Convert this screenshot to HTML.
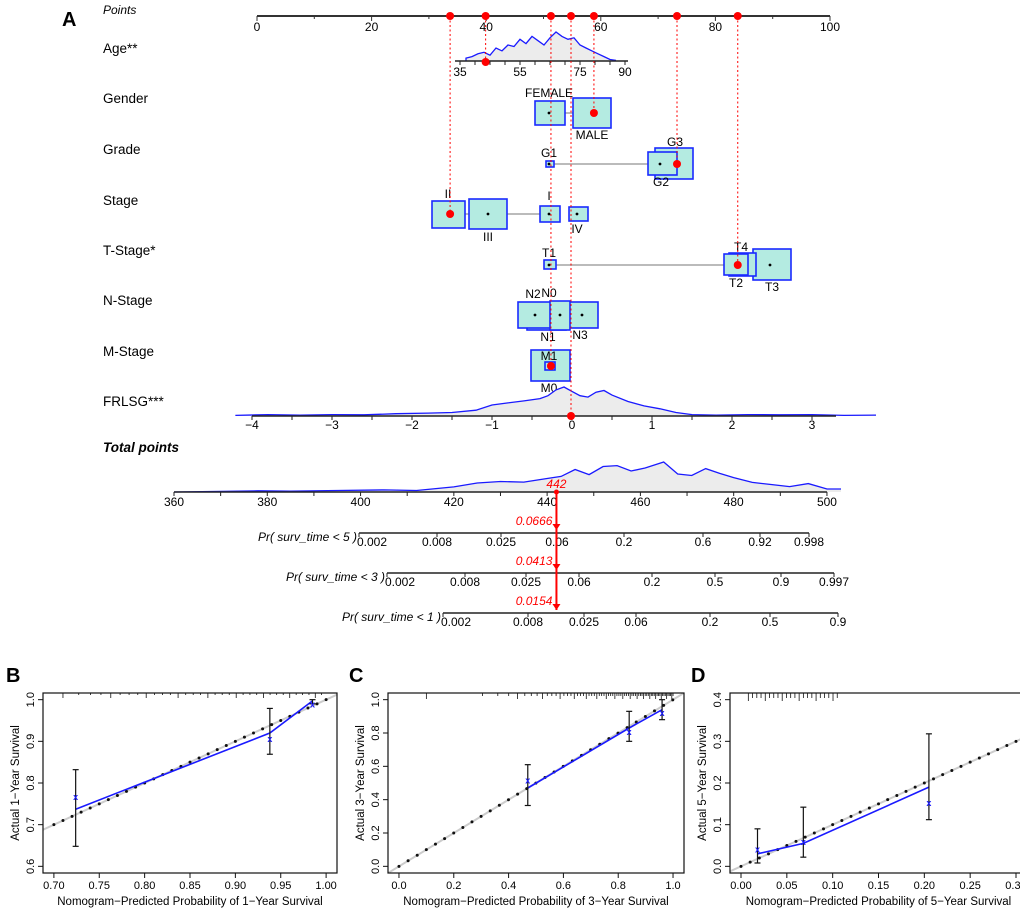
<!DOCTYPE html>
<html><head><meta charset="utf-8">
<style>
html,body{margin:0;padding:0;background:#fff;}
svg{display:block;font-family:"Liberation Sans",Arial,sans-serif;}
</style></head>
<body>
<svg id="fig" width="1020" height="912" viewBox="0 0 1020 912" xmlns="http://www.w3.org/2000/svg">
<g id="nomo"></g>
<g id="cal"></g>
</svg>
<script>
// ---------- Nomogram data ----------
const pointTicks = [0,20,40,60,80,100];
const ageTicks = [35,55,75,90];
const ageDensX = [37,39,41,43,45,47,49,51,53,55,57,59,61,63,65,67,69,71,73,75,77,79,81,83,85,87];
const ageDensY = [0.1,0.15,0.25,0.3,0.2,0.45,0.35,0.55,0.5,0.75,0.6,0.85,0.7,0.55,0.8,1.0,0.85,0.75,0.8,0.55,0.45,0.35,0.25,0.15,0.05,0.02];
const frlsgTicks = [-4,-3,-2,-1,0,1,2,3];
const frlsgDensX = [-4.2,-3.8,-3.4,-3,-2.6,-2.2,-1.8,-1.5,-1.2,-1.0,-0.8,-0.6,-0.4,-0.3,-0.2,-0.1,0,0.1,0.2,0.3,0.4,0.5,0.7,0.9,1.1,1.3,1.5,1.8,2.2,2.6,3.0,3.4,3.8];
const frlsgDensY = [0.02,0.05,0.03,0.05,0.04,0.08,0.1,0.12,0.2,0.38,0.45,0.52,0.6,0.7,0.9,1.0,0.85,0.7,0.65,0.82,0.88,0.72,0.5,0.35,0.25,0.12,0.05,0.03,0.05,0.04,0.05,0.02,0.03];
const totalTicks = [360,380,400,420,440,460,480,500];
const totalDensX = [360,370,378,385,395,405,412,420,425,430,435,440,443,446,449,452,455,458,461,465,468,471,474,477,480,484,488,492,496,500,503];
const totalDensY = [0,0.02,0.04,0.03,0.05,0.07,0.05,0.17,0.3,0.35,0.33,0.45,0.52,0.75,0.58,0.85,0.88,0.7,0.8,1.0,0.6,0.55,0.78,0.62,0.48,0.32,0.25,0.18,0.28,0.1,0.1];
const pr5Labels = ["0.002","0.008","0.025","0.06","0.2","0.6","0.92","0.998"];
const pr5Pts = [359,437,501,557,624,703,760,809];
const pr3Labels = ["0.002","0.008","0.025","0.06","0.2","0.5","0.9","0.997"];
const pr3Pts = [387,465,526,579,652,715,781,834];
const pr1Labels = ["0.002","0.008","0.025","0.06","0.2","0.5","0.9"];
const pr1Pts = [443,528,584,636,710,770,838];
const patientTotal = 442;
const predictedProbs = ["0.0666","0.0413","0.0154"];
const patientPoints = [33.7,39.9,51.3,54.8,58.8,73.3,83.9];

const NS="http://www.w3.org/2000/svg";
function mk(parent,tag,attrs,text){const e=document.createElementNS(NS,tag);for(const k in attrs)e.setAttribute(k,attrs[k]);if(text!==undefined)e.textContent=text;parent.appendChild(e);return e;}
const nomo=document.getElementById('nomo');
const ptX=v=>257+v*5.73;
const ageX=a=>460+(a-35)*(625-460)/55;
const frX=v=>572+v*80;
const totX=v=>174+(v-360)*4.664;

let t=mk(nomo,'text',{x:62,y:26,'font-size':20,'font-weight':'bold'},'A');



const rowLabels=[["Points",10,true],["Age**",53],["Gender",103],["Grade",154],["Stage",205],["T-Stage*",255],["N-Stage",305],["M-Stage",356],["FRLSG***",406]];
rowLabels.forEach(r=>{const e=mk(nomo,'text',{x:103,y:r[1]+(r[2]?4:0),'font-size':r[2]?12:13.5,'font-style':r[2]?'italic':'normal'},r[0]);

});
t=mk(nomo,'text',{x:103,y:452,'font-size':13.5,'font-weight':'bold','font-style':'italic'},'Total points');



let g=mk(nomo,'g',{});


mk(g,'line',{x1:ptX(0),x2:ptX(100),y1:16,y2:16,stroke:'#333','stroke-width':2});
for(let v=0;v<=100;v+=10){mk(g,'line',{x1:ptX(v),x2:ptX(v),y1:16,y2:v%20==0?21:19,stroke:'#333'});}
pointTicks.forEach(v=>mk(g,'text',{x:ptX(v),y:31,'font-size':12,'text-anchor':'middle'},v));

g=mk(nomo,'g',{});


let d='M'+ageX(ageDensX[0])+',61 '+ageDensX.map((a,i)=>'L'+ageX(a).toFixed(1)+','+(61-ageDensY[i]*29).toFixed(1)).join(' ');
mk(g,'path',{d:d+' L'+ageX(ageDensX[ageDensX.length-1])+',61 Z',fill:'#ececec',stroke:'none'});
mk(g,'path',{d:d,fill:'none',stroke:'#1a1aff','stroke-width':1.3});
mk(g,'line',{x1:455,x2:628,y1:61,y2:61,stroke:'#222','stroke-width':1.5});
for(let a=35;a<=90;a+=5)mk(g,'line',{x1:ageX(a),x2:ageX(a),y1:61,y2:65,stroke:'#222'});
ageTicks.forEach(a=>mk(g,'text',{x:ageX(a),y:76,'font-size':12,'text-anchor':'middle'},a));

const boxes=[
 ['gender-female',535,101,565,125,549,113],['gender-male',573,98,611,128,592,113],
 ['grade-g3',655,148,693,179,675,164],['grade-g2',648,152,677,175,660,164],['grade-g1',546,161,554,167,549,164],
 ['stage-ii',432,201,465,228,448,214],['stage-iii',469,199,507,229,488,214],['stage-i',540,206,560,222,549,214],['stage-iv',569,207,588,221,577,214],
 ['tstage-t3',753,249,791,280,770,265],['tstage-t4',729,253,756,276,741,265],['tstage-t2',724,254,748,275,736,265],['tstage-t1',544,260,556,269,549,265],
 ['nstage-n1',527,304,566,330,547,315],['nstage-n2',518,302,553,328,535,315],['nstage-n3',566,302,598,328,582,315],['nstage-n0',550,301,570,330,560,315],
 ['mstage-m0',531,350,570,381,549,366],['mstage-m1',545,362,555,370,549,366]];
const lines=[[565,573,113],[554,648,164],[465,540,214],[556,724,265]];
lines.forEach(l=>mk(nomo,'line',{x1:l[0],x2:l[1],y1:l[2],y2:l[2],stroke:'#bbb','stroke-width':2}));
boxes.forEach(b=>{const r=mk(nomo,'rect',{x:b[1],y:b[2],width:b[3]-b[1],height:b[4]-b[2],fill:'#b4ebe1',stroke:'#1a2aff','stroke-width':1.6});


mk(nomo,'circle',{cx:b[5],cy:b[6],r:1.4,fill:'#000'});});
const cat=[['FEMALE',549,97],['MALE',592,139],['G3',675,146],['G2',661,186],['G1',549,157],['II',448,198],['III',488,241],['I',549,200],['IV',577,233],
['T4',741,251],['T2',736,287],['T3',772,291],['T1',549,257],['N2',533,298],['N0',549,297],['N1',548,341],['N3',580,339],['M1',549,360],['M0',549,392]];
cat.forEach(c=>{const e=mk(nomo,'text',{x:c[1],y:c[2],'font-size':12,'text-anchor':'middle'},c[0]);

});

g=mk(nomo,'g',{});


d='M'+frX(frlsgDensX[0])+',416 '+frlsgDensX.map((a,i)=>'L'+frX(a).toFixed(1)+','+(416-frlsgDensY[i]*29).toFixed(1)).join(' ');
mk(g,'path',{d:d+' L'+frX(frlsgDensX[frlsgDensX.length-1])+',416 Z',fill:'#ececec'});
mk(g,'path',{d:d,fill:'none',stroke:'#1a1aff','stroke-width':1.3});
mk(g,'line',{x1:frX(-4),x2:frX(3.3),y1:416,y2:416,stroke:'#222','stroke-width':1.5});
for(let v=-4;v<=3;v+=0.5)mk(g,'line',{x1:frX(v),x2:frX(v),y1:416,y2:420,stroke:'#222'});
frlsgTicks.forEach(v=>mk(g,'text',{x:frX(v),y:429,'font-size':12,'text-anchor':'middle'},v<0?'\u2212'+(-v):v));

g=mk(nomo,'g',{});


d='M'+totX(totalDensX[0])+',492 '+totalDensX.map((a,i)=>'L'+totX(a).toFixed(1)+','+(492-totalDensY[i]*30).toFixed(1)).join(' ');
mk(g,'path',{d:d+' L'+totX(503)+',492 Z',fill:'#ececec'});
mk(g,'path',{d:d,fill:'none',stroke:'#1a1aff','stroke-width':1.3});
mk(g,'line',{x1:totX(360),x2:totX(500),y1:492,y2:492,stroke:'#222','stroke-width':1.5});
for(let v=360;v<=500;v+=10)mk(g,'line',{x1:totX(v),x2:totX(v),y1:492,y2:496,stroke:'#222'});
totalTicks.forEach(v=>mk(g,'text',{x:totX(v),y:506,'font-size':12,'text-anchor':'middle'},v));

const prRows=[['pr-5-year-axis','Pr( surv_time < 5 )',533,pr5Labels,pr5Pts],['pr-3-year-axis','Pr( surv_time < 3 )',573,pr3Labels,pr3Pts],['pr-1-year-axis','Pr( surv_time < 1 )',613,pr1Labels,pr1Pts]];
prRows.forEach(r=>{const gg=mk(nomo,'g',{});


const p=r[4];
mk(gg,'line',{x1:p[0],x2:p[p.length-1],y1:r[2],y2:r[2],stroke:'#222','stroke-width':1.5});
p.forEach(x=>mk(gg,'line',{x1:x,x2:x,y1:r[2],y2:r[2]+4,stroke:'#222'}));
r[3].forEach((l,i)=>mk(gg,'text',{x:p[i]+(i==0?-2:0),y:r[2]+13,'font-size':12,'text-anchor':i==0?'start':'middle'},l));
mk(gg,'text',{x:p[0]-2,y:r[2]+8,'font-size':12,'font-style':'italic','text-anchor':'end'},r[1]);});

const guideEnds=[214,62,366,416,113,164,265];
const dotsG=mk(nomo,'g',{});


patientPoints.forEach((p,i)=>{const x=ptX(p);
mk(dotsG,'line',{x1:x,x2:x,y1:16,y2:guideEnds[i],stroke:'#f00','stroke-width':1,'stroke-dasharray':'2,2.5'});
mk(dotsG,'circle',{cx:x,cy:16,r:4,fill:'#f00'});
mk(dotsG,'circle',{cx:x,cy:guideEnds[i],r:4,fill:'#f00'});});
const tx=totX(patientTotal);
mk(dotsG,'line',{x1:tx,x2:tx,y1:490,y2:610,stroke:'#f00','stroke-width':2});
mk(dotsG,'circle',{cx:tx,cy:492,r:2.5,fill:'#f00'});
[530,570,610].forEach(y=>mk(dotsG,'path',{d:`M${tx-4},${y-6} L${tx+4},${y-6} L${tx},${y} Z`,fill:'#f00'}));
mk(dotsG,'text',{x:tx,y:488,'font-size':12,'font-style':'italic',fill:'#f00','text-anchor':'middle'},patientTotal);
predictedProbs.forEach((v,i)=>mk(dotsG,'text',{x:tx-4,y:525+40*i,'font-size':12,'font-style':'italic',fill:'#f00','text-anchor':'end'},v));

// ---------- Calibration data ----------
const bPredX=[0.724,0.938,0.985];
const bObsY=[0.766,0.906,0.988];
const bLo=[0.648,0.869,0.99];
const bHi=[0.832,0.979,1.0];
const bFitY=[0.737,0.92,0.997];
const cPredX=[0.47,0.84,0.96];
const cObsY=[0.515,0.805,0.92];
const cLo=[0.365,0.75,0.88];
const cHi=[0.61,0.93,1.0];
const cFitY=[0.47,0.83,0.94];
const dPredX=[0.018,0.068,0.205];
const dObsY=[0.04,0.058,0.152];
const dLo=[0.008,0.022,0.112];
const dHi=[0.09,0.142,0.318];
const dFitY=[0.03,0.055,0.19];
const bXTicks=["0.70","0.75","0.80","0.85","0.90","0.95","1.00"];
const bYTicks=["0.6","0.7","0.8","0.9","1.0"];
const cXTicks=["0.0","0.2","0.4","0.6","0.8","1.0"];
const cYTicks=["0.0","0.2","0.4","0.6","0.8","1.0"];
const dXTicks=["0.00","0.05","0.10","0.15","0.20","0.25","0.30"];
const dYTicks=["0.0","0.1","0.2","0.3","0.4"];

const cal=document.getElementById('cal');
function panel(name,letter,lx,box,xr,yr,xt,yt,px,oy,lo,hi,fy,yrs,rug,diagStep){
 const [L,R,T,B]=box;
 const padX=(xr[1]-xr[0])*0.04,padY=(yr[1]-yr[0])*0.04;
 const sx=v=>L+(v-(xr[0]-padX))/((xr[1]-xr[0])+2*padX)*(R-L);
 const sy=v=>B-(v-(yr[0]-padY))/((yr[1]-yr[0])+2*padY)*(B-T);
 const gg=mk(cal,'g',{});
 
 
 const lt=mk(gg,'text',{x:lx,y:682,'font-size':20,'font-weight':'bold'},letter);
 
 
 const cp='clip'+letter;
 const cpe=mk(gg,'clipPath',{id:cp});mk(cpe,'rect',{x:L,y:T,width:R-L,height:B-T});
 const inner=mk(gg,'g',{'clip-path':`url(#${cp})`});
 mk(inner,'line',{x1:sx(xr[0]-padX),y1:sy(xr[0]-padX),x2:sx(xr[1]+padX),y2:sy(xr[1]+padX),stroke:'#ccc','stroke-width':2});
 for(let v=xr[0];v<=xr[1]+1e-9;v+=diagStep)mk(inner,'circle',{cx:sx(v),cy:sy(v),r:1.5,fill:'#111'});
 // rug: [start,end,count,power,height]
 const [rs,re,rn,rp,rh]=rug;
 for(let i=0;i<rn;i++){const f=i/(rn-1);const v=rs+(re-rs)*Math.pow(f,rp);const h=(i%4==0)?rh+3:rh;mk(inner,'line',{x1:sx(v),x2:sx(v),y1:T,y2:T+h,stroke:'#111','stroke-width':0.8});}
 mk(inner,'polyline',{points:px.map((x,i)=>sx(x)+','+sy(fy[i])).join(' '),fill:'none',stroke:'#1a1aff','stroke-width':1.6});
 px.forEach((x,i)=>{const X=sx(x);mk(inner,'line',{x1:X,x2:X,y1:sy(lo[i]),y2:sy(hi[i]),stroke:'#111','stroke-width':1.2});
  mk(inner,'line',{x1:X-3,x2:X+3,y1:sy(lo[i]),y2:sy(lo[i]),stroke:'#111','stroke-width':1.2});
  mk(inner,'line',{x1:X-3,x2:X+3,y1:sy(hi[i]),y2:sy(hi[i]),stroke:'#111','stroke-width':1.2});
  mk(inner,'text',{x:X,y:sy(oy[i])+3,'font-size':9,fill:'#1a1aff','text-anchor':'middle','font-weight':'bold'},'x');});
 mk(gg,'rect',{x:L,y:T,width:R-L,height:B-T,fill:'none',stroke:'#111','stroke-width':1.2});
 xt.forEach(v=>{const X=sx(parseFloat(v));mk(gg,'line',{x1:X,x2:X,y1:B,y2:B+5,stroke:'#111'});mk(gg,'text',{x:X,y:B+16,'font-size':11,'text-anchor':'middle'},v);});
 yt.forEach(v=>{const Y=sy(parseFloat(v));mk(gg,'line',{x1:L,x2:L-5,y1:Y,y2:Y,stroke:'#111'});mk(gg,'text',{x:L-9,y:Y,'font-size':11,'text-anchor':'middle',transform:`rotate(-90 ${L-9} ${Y})`},v);});
 mk(gg,'text',{x:(L+R)/2,y:905,'font-size':11.5,'text-anchor':'middle'},'Nomogram\u2212Predicted Probability of '+yrs+'\u2212Year Survival');
 const yx=L-24,yy=(T+B)/2;
 mk(gg,'text',{x:yx,y:yy,'font-size':11.5,'text-anchor':'middle',transform:`rotate(-90 ${yx} ${yy})`},'Actual '+yrs+'\u2212Year Survival');
}
panel('calibration-1-year','B',6,[43,337,693,873],[0.70,1.00],[0.60,1.00],bXTicks,bYTicks,bPredX,bObsY,bLo,bHi,bFitY,1,[0.71,0.995,34,0.8,2],0.01);
panel('calibration-3-year','C',349,[388,684,693,873],[0,1],[0,1],cXTicks,cYTicks,cPredX,cObsY,cLo,cHi,cFitY,3,[0.1,1.0,70,0.35,3],0.0333);
panel('calibration-5-year','D',691,[730,1027,693,873],[0,0.30],[0,0.40],dXTicks,dYTicks,dPredX,dObsY,dLo,dHi,dFitY,5,[0.008,0.105,22,1,5],0.01);
</script>
</body></html>
